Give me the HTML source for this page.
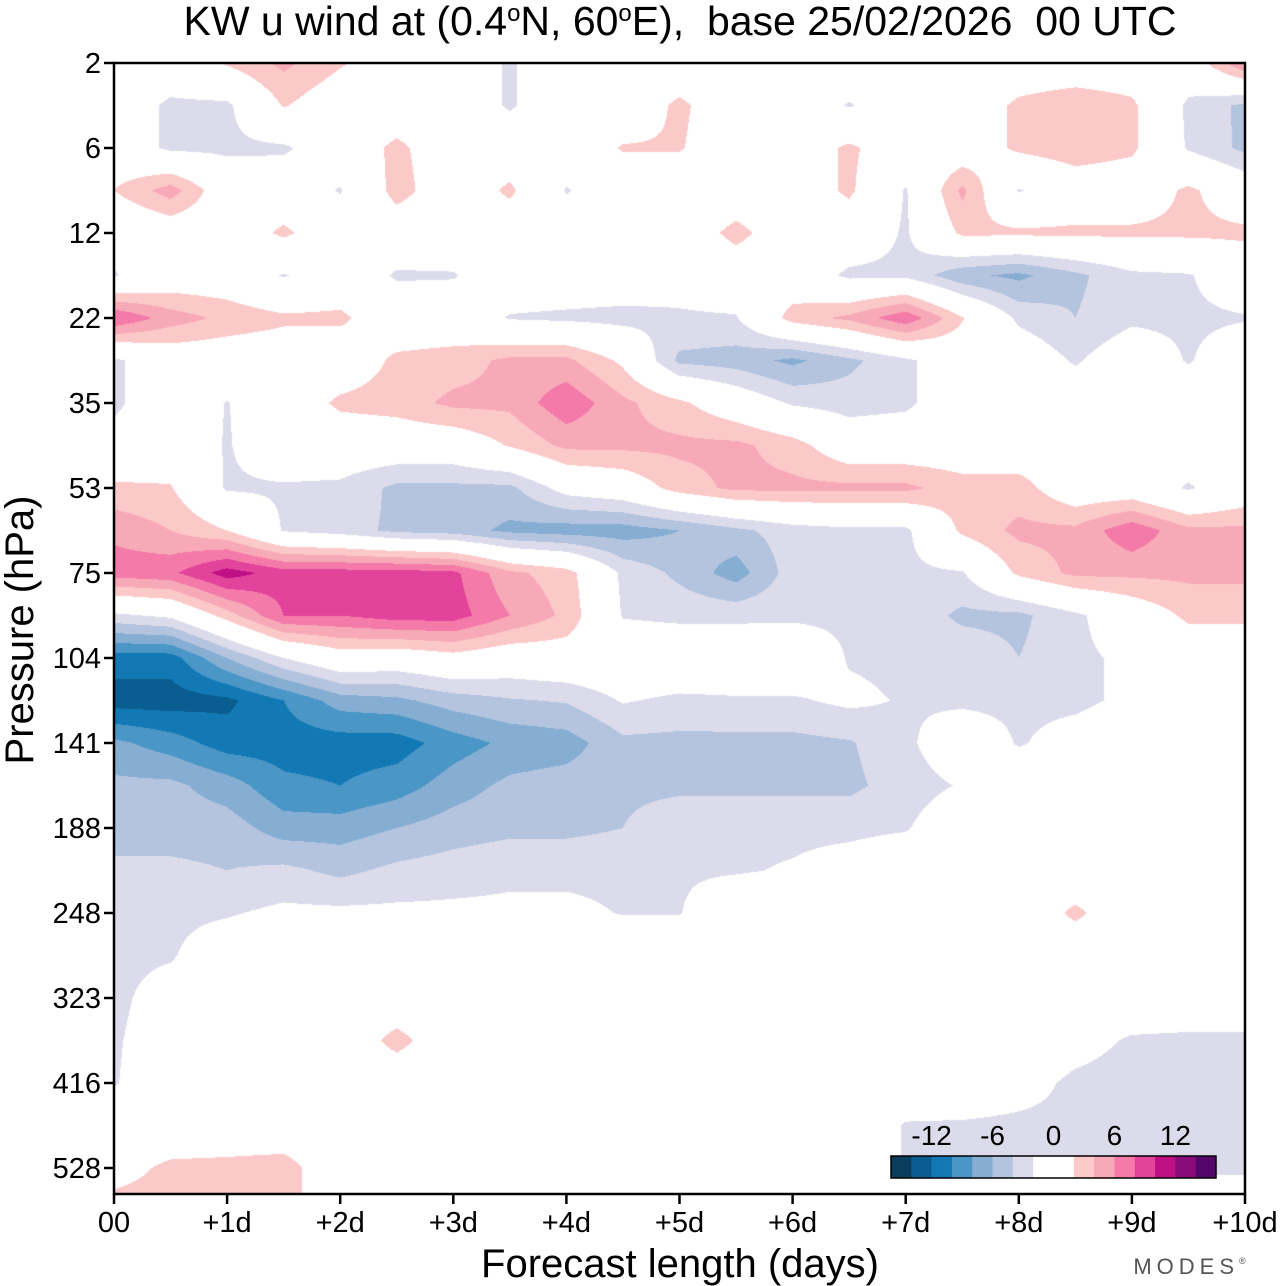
<!DOCTYPE html>
<html><head><meta charset="utf-8">
<style>
body{margin:0;background:#fff;width:1280px;height:1286px;overflow:hidden;font-family:"Liberation Sans",Arial,sans-serif;}
#wrap{position:relative;width:1280px;height:1286px;}
canvas{position:absolute;left:114px;top:63px;}
svg{position:absolute;left:0;top:0;}
</style></head>
<body>
<div id="wrap">
<canvas id="cv" width="1131" height="1131"></canvas>
<svg id="sv" width="1280" height="1286">
<text x="680" y="35" text-anchor="middle" font-size="41" xml:space="preserve">KW u wind at (0.4<tspan dy="-14" font-size="24">o</tspan><tspan dy="14">N, 60</tspan><tspan dy="-14" font-size="24">o</tspan><tspan dy="14">E),&#160; base 25/02/2026&#160; 00 UTC</tspan></text>
<text x="680" y="1277" text-anchor="middle" font-size="40">Forecast length (days)</text>
<text transform="translate(33,630) rotate(-90)" text-anchor="middle" font-size="40">Pressure (hPa)</text>
<text x="1192" y="1274" text-anchor="middle" font-size="22" fill="#555" letter-spacing="5">MODES<tspan font-size="9" dy="-10">®</tspan></text>
</svg>
</div>
<script>
const pressureLabels=["2","6","12","22","35","53","75","104","141","188","248","323","416","528"];
const dayLabels=["00","+1d","+2d","+3d","+4d","+5d","+6d","+7d","+8d","+9d","+10d"];
const cbLabels=["-12","-6","0","6","12"];
const cbLabelValues=[-12,-6,0,6,12];
const levels=[-14,-12,-10,-8,-6,-4,-2,2,4,6,8,10,12,14];
const colors=["#0b3d5c","#0a5d90","#1279b5","#4a96c6","#86aed3","#b4c4df","#dcdbeb","#ffffff","#fcc9c9","#f7a9b8","#f47aaa","#e2439b","#bf0f85","#8a0b7a","#55066b"];
// wind grid: rows = half pressure-tick levels (0..27), cols = half days (0..10)
const windGrid=[
[0,0,2.3,4.5,2.3,0,0,-2.3,0,0,0,0,0,0,0,0,0,0,0,0,6],
[0,-2.5,-2.5,2.2,0,0,0,-2.3,0,0,2.5,0,0,-2.2,0,0,2.5,3.5,2.5,-2.5,-4.5],
[0,-2.5,-2.5,-2.4,0,2.6,0,0,0,2.2,2.2,0,0,2.5,0,0,2.5,3.5,2.5,-2.3,-4.5],
[2,5,0,0,-2.2,3,0,2.5,-2.2,0,0,0,0,2.5,-2.2,4.5,-2.2,0,0,2.5,0],
[-1,0,0,2.5,0,0,0,0,0,0,0,2.8,0,0,-2.3,2.5,2.5,2.5,2.5,2.5,2.5],
[-2.2,0,0,-2.2,0,-2.3,-2.2,0,0,0,-1,0,0,-2.5,-2.5,-5.5,-6.5,-4.5,-2.5,-2.2,0],
[8,5,3.5,2.5,2.5,0,0,-2.2,-2.5,-2.8,-2.3,-2.2,3,4.5,7.5,2.2,-2.5,-4,-2.5,-2.5,-2.2],
[-2.5,0,0,0,0,2.5,3,4.5,4.5,1.5,-4.5,-5,-6.5,-4.5,-2.5,0,0,-2.3,0,-2.2,0],
[-2.5,0,-2.1,0,2.5,3,4.5,4.5,7.5,4.5,2.5,0,-2.3,-3,-2.5,0,0,0,0,0,0],
[-1,0,-2.2,0,0,0,0,2.2,4.5,4.5,4.5,4.5,3,0,0,0,0,0,0,0,0],
[2.5,2.2,-2.3,-2.3,-2.5,-4.5,-4.5,-4.5,-1,0,3,4.5,4.5,4.5,4.5,3,3,0,0,-2.3,0],
[5.5,4,2,-2.2,-3,-4.5,-5,-6.5,-7,-7,-6,-4.5,-3,-2.5,-2.5,2.5,4.5,4.5,7.5,4.5,4.5],
[7,7.5,11,9,9,9,8.5,4.5,3,-2.5,-4.5,-7,-3,-2.5,-2.5,-2.2,2.5,4.5,4.5,4.5,4.5],
[-2.5,-1.5,3,8,8,9,9,6,3.5,-2.2,-2.6,-2.6,-2.5,-2.5,-2.5,-4.5,-4.5,-2.5,0,2.5,2.5],
[-11,-11,-6,-2,0.5,0,1,0,0.5,0.5,0.5,0.5,0.5,-2.2,-2.5,-2.5,-4,-2.5,-1.5,0,0],
[-13,-13,-12.5,-10,-7,-6.5,-5,-4.2,-3.8,-1.8,-2.5,-2.3,-2.3,-1.5,-2.2,-2.5,-2.5,-2.5,-1.5,0,0],
[-7.5,-9,-11,-11,-11,-11,-9,-7.5,-7,-4.5,-4.6,-4.6,-4.6,-4.2,-2.5,0,-2.2,-1,0,0,0],
[-5.5,-5.5,-7,-9.5,-10,-9,-7,-5.5,-5,-4.5,-4.5,-4.5,-4.5,-4.5,-3,-1.8,0,0,0,0,0],
[-5,-5,-5,-7,-7,-6,-5,-4.5,-4.5,-4,-2.5,-2.5,-2.5,-2.5,-2.2,0,0,0,0,0,0],
[-3.5,-3.5,-4,-3.5,-4.5,-3.5,-3,-2.5,-2.5,-2.5,-2.3,-2.2,-1.8,-1,0,0,0,0,0,0,0],
[-2.5,-2.5,-2.2,-1.5,-1.5,-1.5,-1.5,-1.5,-1.5,-2.1,-2.1,0,0,0,0,0,0,2.5,0,0,0],
[-2.5,-2.2,-0.5,0,0,0,0,0,0,0,0,0,0,0,0,0,0,0,0,0,0],
[-2.5,-1,0,0,0,0,0,0,0,0,0,0,0,0,0,0,0,0,0,0,0],
[-2.3,-0.5,0,0,0,2.8,0,0,0,0,0,0,0,0,0,0,0,-1,-2.3,-2.5,-2.5],
[-2.2,0,0,0,0,0,0,0,0,0,0,0,0,0,0,0,-1,-2.5,-3,-2.5,-2.5],
[0,0,0,0,0,0,0,0,0,0,0,0,0,0,-2.2,-2.3,-2.5,-2.5,-2.5,-2.5,-2.5],
[1,2.5,2.7,3,0,0,0,0,0,0,0,0,0,0,-2.2,-2.4,-2.4,-2.4,-2.4,-2.4,-2.4],
[3,3,3,3,0,0,0,0,0,0,0,0,0,0,0,0,0,0,0,0,0]
];
const X0=114,X1=1245,Y0=63,Y1=1194;
const dayToX=d=>X0+(X1-X0)*d/10;
const rowToY=r=>Y0+42.5*r;
function bin(v){let i=0;while(i<levels.length&&v>=levels[i])i++;return i;}
function hex(c){return [parseInt(c.slice(1,3),16),parseInt(c.slice(3,5),16),parseInt(c.slice(5,7),16)];}
const rgb=colors.map(hex);
const cv=document.getElementById('cv');const ctx=cv.getContext('2d');
const W=cv.width,H=cv.height;const img=ctx.createImageData(W,H);
const nR=windGrid.length,nC=windGrid[0].length;
for(let py=0;py<H;py++){
 let fr=(py+0.5)/42.5;if(fr>nR-1)fr=nR-1;const r0=Math.min(Math.floor(fr),nR-2);const ty=fr-r0;
 for(let px=0;px<W;px++){
  let fc=(px+0.5)/((X1-X0)/(nC-1));if(fc>nC-1)fc=nC-1;const c0=Math.min(Math.floor(fc),nC-2);const tx=fc-c0;
  const a=windGrid[r0][c0],b=windGrid[r0][c0+1],c=windGrid[r0+1][c0],d=windGrid[r0+1][c0+1];
  const v=(a*(1-tx)+b*tx)*(1-ty)+(c*(1-tx)+d*tx)*ty;
  const col=rgb[bin(v)];const k=(py*W+px)*4;
  img.data[k]=col[0];img.data[k+1]=col[1];img.data[k+2]=col[2];img.data[k+3]=255;
 }
}
ctx.putImageData(img,0,0);
const NS="http://www.w3.org/2000/svg";const sv=document.getElementById('sv');
function mk(tag,attrs){const e=document.createElementNS(NS,tag);for(const k in attrs)e.setAttribute(k,attrs[k]);sv.appendChild(e);return e;}
const frame=mk('rect',{x:X0,y:Y0,width:X1-X0,height:Y1-Y0,fill:'none',stroke:'#000','stroke-width':2.5});


pressureLabels.forEach((lab,i)=>{
 const y=rowToY(i*2);
 const t=mk('line',{x1:X0-10,x2:X0,y1:y,y2:y,stroke:'#000','stroke-width':2.5});
 
 
 const tx=mk('text',{x:X0-13,y:y+10,'text-anchor':'end','font-size':29});tx.textContent=lab;
 
 
});
dayLabels.forEach((lab,i)=>{
 const x=dayToX(i);
 const t=mk('line',{x1:x,x2:x,y1:Y1,y2:Y1+10,stroke:'#000','stroke-width':2.5});
 
 
 const tx=mk('text',{x:x,y:1232,'text-anchor':'middle','font-size':29});tx.textContent=lab;
 
 
});
const cbX=891,cbY=1156,cbW=325,cbH=22,bw=cbW/16;
const cbCols=[0,1,2,3,4,5,6,7,7,8,9,10,11,12,13,14];
cbCols.forEach((ci,i)=>{
 const r=mk('rect',{x:cbX+i*bw,y:cbY,width:bw+0.5,height:cbH,fill:colors[ci]});
 
 
});
const cbf=mk('rect',{x:cbX,y:cbY,width:cbW,height:cbH,fill:'none',stroke:'#000','stroke-width':1.5});


cbLabels.forEach((lab,i)=>{
 const x=cbX+cbW/2+cbLabelValues[i]*(bw/2);
 const t=mk('text',{x:x,y:1145,'text-anchor':'middle','font-size':28});t.textContent=lab;
 
 
});
</script>
</body></html>
